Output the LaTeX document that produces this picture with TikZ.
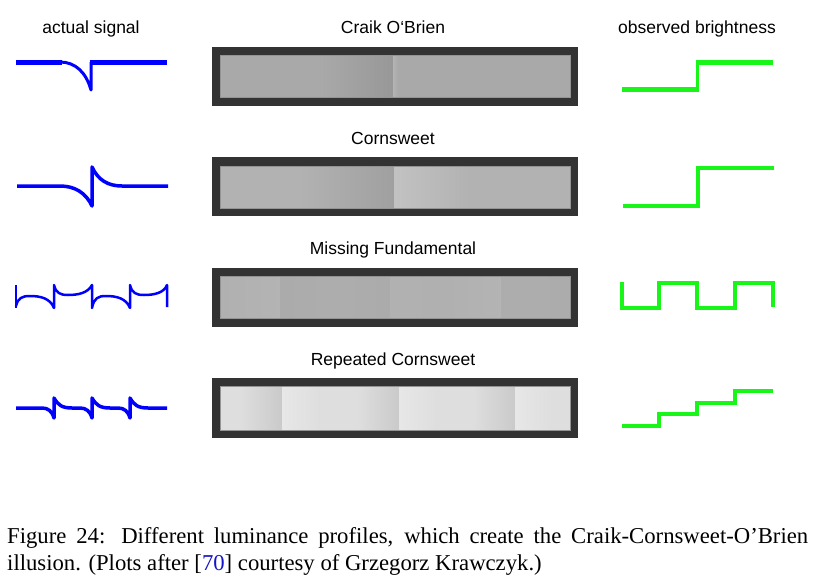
\documentclass[tikz,border=0pt]{standalone}
\usepackage{fontspec}
\setmainfont{Liberation Serif}
\newfontfamily\labelfont{Liberation Sans}
\definecolor{sigblue}{RGB}{0,0,255}
\definecolor{obsgreen}{RGB}{24,245,24}
\definecolor{framegray}{RGB}{51,51,51}
\definecolor{linkblue}{RGB}{20,20,200}
\definecolor{gA}{RGB}{169,169,169}
\definecolor{gAd}{RGB}{152,152,152}
\definecolor{gB}{RGB}{178,178,178}
\definecolor{gBd}{RGB}{160,160,160}
\definecolor{gBl}{RGB}{194,194,194}
\definecolor{gD}{RGB}{222,222,222}
\definecolor{gDd}{RGB}{202,202,202}
\definecolor{gDl}{RGB}{231,231,231}
\tikzset{
  ttl/.style={anchor=base, inner sep=0pt, font=\labelfont\fontsize{17.5}{21}\selectfont},
  capline/.style={anchor=base west, inner sep=0pt, font=\fontsize{22.7}{27}\selectfont},
  sig/.style={draw=sigblue, line join=round},
  obs/.style={draw=obsgreen, line join=miter},
  framebox/.style={fill=framegray},
  innerline/.style={draw=gray!85, line width=0.6pt}
}
\begin{document}
\begin{tikzpicture}[x=1pt,y=-1pt]
\useasboundingbox (0,0) rectangle (820,584);
\fill[white] (0,0) rectangle (820,584);

% titles
\node[ttl] (t1) at (91,33) {actual signal};
\node[ttl] (t2) at (393,33) {Craik O‘Brien};
\node[ttl] (t3) at (697,33) {observed brightness};
\node[ttl] (t4) at (393,144) {Cornsweet};
\node[ttl] (t5) at (393,254) {Missing Fundamental};
\node[ttl] (t6) at (393,365) {Repeated Cornsweet};

% ---------- Box 1: Craik O'Brien ----------
\fill[framebox] (212,47) rectangle (578,106);
\fill[gA] (220,55) rectangle (570,97);
\shade[left color=gA, right color=gAd] (320,55) rectangle (393,97);
\fill[gA] (393,55) rectangle (570,97);
\shade[left color=gray!60, right color=gA] (393,55) rectangle (398,97);
\draw[innerline] (220,55) rectangle (570,97);

% ---------- Box 2: Cornsweet ----------
\fill[framebox] (212,157) rectangle (578,216);
\fill[gB] (220,166) rectangle (570,208);
\shade[left color=gB, right color=gBd] (300,166) rectangle (394,208);
\shade[left color=gBl, right color=gB] (394,166) rectangle (470,208);
\draw[innerline] (220,166) rectangle (570,208);

% ---------- Box 3: Missing Fundamental ----------
\fill[framebox] (212,268) rectangle (578,327);
\shade[left color=gray!62, right color=gray!59] (220,276) rectangle (280,318);
\shade[left color=gray!66, right color=gray!64] (280,276) rectangle (335,318);
\shade[left color=gray!64, right color=gray!66] (335,276) rectangle (390,318);
\shade[left color=gray!61, right color=gray!62] (390,276) rectangle (445,318);
\shade[left color=gray!62, right color=gray!59] (445,276) rectangle (501,318);
\shade[left color=gray!64, right color=gray!65] (501,276) rectangle (570,318);
\draw[innerline] (220,276) rectangle (570,318);

% ---------- Box 4: Repeated Cornsweet ----------
\fill[framebox] (212,378) rectangle (578,438);
\fill[gD] (220,386) rectangle (570,430);
\shade[left color=gD, right color=gDd] (240,386) rectangle (282,430);
\shade[left color=gDl, right color=gD] (282,386) rectangle (320,430);
\shade[left color=gD, right color=gDd] (357,386) rectangle (399,430);
\shade[left color=gDl, right color=gD] (399,386) rectangle (437,430);
\shade[left color=gD, right color=gDd] (473,386) rectangle (515,430);
\shade[left color=gDl, right color=gD] (515,386) rectangle (553,430);
\draw[innerline] (220,386) rectangle (570,430);

% ---------- actual signals (blue) ----------
% row 1
\draw[sig, line width=5pt] (16,62) -- (62,62);
\draw[sig, line width=3pt] (60,62) .. controls (75,62) and (86,72) .. (91,90) -- (91,62);
\draw[sig, line width=5pt] (89.5,62) -- (167,62);
% row 2
\draw[sig, line width=3.5pt] (17,186) -- (60,186)
  .. controls (75,186) and (86,193) .. (92,206) -- (92,167)
  .. controls (98,180) and (108,186) .. (122,186) -- (168,186);
% row 3
\draw[sig, line width=2.5pt] (16,285) -- (16,308);
\draw[sig, line width=2.5pt] (16,306)
  .. controls (18,298) and (22,296) .. (30,296)
  .. controls (40,296) and (50,298) .. (54,308) -- (54,285)
  .. controls (56,293) and (60,295) .. (68,295)
  .. controls (78,295) and (88,293) .. (92,285) -- (92,308)
  .. controls (94,298) and (98,296) .. (106,296)
  .. controls (116,296) and (126,298) .. (130,308) -- (130,285)
  .. controls (132,293) and (136,295) .. (144,295)
  .. controls (154,295) and (164,293) .. (167,285) -- (167,307);
% row 4
\draw[sig, line width=3.5pt] (16,408) -- (42,408)
  .. controls (48,408) and (52,411) .. (54,418) -- (54,398)
  .. controls (58,405) and (62,408) .. (72,408) -- (80,408)
  .. controls (86,408) and (90,411) .. (92,418) -- (92,398)
  .. controls (96,405) and (100,408) .. (110,408) -- (118,408)
  .. controls (124,408) and (128,411) .. (130,418) -- (130,398)
  .. controls (134,405) and (138,408) .. (148,408) -- (167,408);

% ---------- observed brightness (green) ----------
\draw[obs, line width=5pt] (622,89) -- (697,89);
\draw[obs, line width=3pt] (697,91.5) -- (697,62);
\draw[obs, line width=5pt] (695.5,62) -- (773,62);
\draw[obs, line width=3.5pt] (623,206) -- (698,206) -- (698,168) -- (774,168);
\draw[obs, line width=3.5pt] (622,282) -- (622,308) -- (659,308) -- (659,283) -- (697,283)
  -- (697,308) -- (735,308) -- (735,283) -- (773,283) -- (773,307);
\draw[obs, line width=3.5pt] (622,426) -- (659,426) -- (659,414) -- (697,414) -- (697,403)
  -- (735,403) -- (735,391) -- (773,391);

% ---------- caption ----------
\node[capline] (cap1) at (7,543) {\makebox[801pt][s]{Figure 24: Different luminance profiles, which create the Craik-Cornsweet-O’Brien}};
\node[capline] (cap2) at (7,570) {illusion. (Plots after [{\color{linkblue}70}] courtesy of Grzegorz Krawczyk.)};
\end{tikzpicture}
\end{document}
